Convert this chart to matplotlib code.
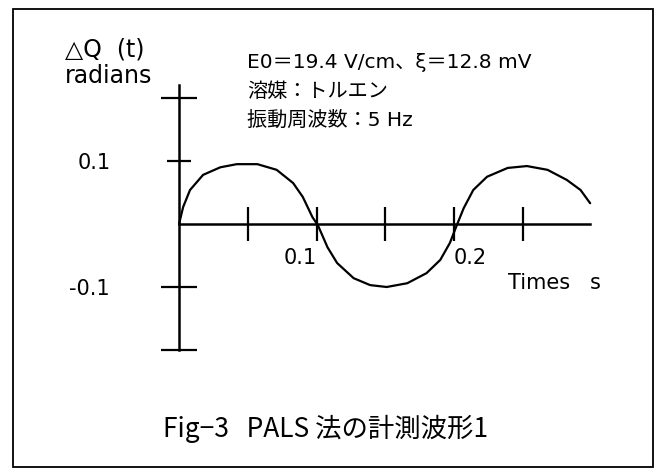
import matplotlib
matplotlib.use("Agg")
import matplotlib.pyplot as plt
from matplotlib.patches import Rectangle

plt.rcParams['font.family'] = ['DejaVu Sans', 'Noto Sans CJK JP']

# ---- data ----
time_s = [0.000, 0.003, 0.008, 0.0175, 0.030, 0.042, 0.057, 0.071, 0.083, 0.090,
          0.097, 0.101, 0.108, 0.115, 0.127, 0.139, 0.151, 0.166, 0.180, 0.190,
          0.197, 0.202, 0.207, 0.214, 0.224, 0.239, 0.253, 0.268, 0.282, 0.292, 0.299]
dq_rad = [0.000, 0.027, 0.054, 0.078, 0.090, 0.095, 0.095, 0.086, 0.065, 0.043,
          0.011, -0.002, -0.037, -0.062, -0.086, -0.097, -0.100, -0.094, -0.078, -0.057,
          -0.030, -0.002, 0.025, 0.054, 0.075, 0.089, 0.092, 0.086, 0.070, 0.054, 0.033]

x_ticks = [0.05, 0.10, 0.15, 0.20, 0.25]
x_tick_labels = ["", "0.1", "", "0.2", ""]
y_major = [0.1]
y_major_labels = ["0.1"]
y_minor = [-0.2, -0.1, 0.2]
y_minor_labels = ["", "-0.1", ""]

info_lines = ["E0＝19.4 V/cm、ξ＝12.8 mV", "溶媒：トルエン", "振動周波数：5 Hz"]
y_title_1 = "△Q  (t)"
y_title_2 = "radians"
x_title = "Times   s"
caption = "Fig−3   PALS 法の計測波形1"

# ---- figure ----
fig = plt.figure(figsize=(6.6, 4.7), dpi=100)
ax = fig.add_axes([0, 0, 1, 1])
ax.set_xlim(-0.1302, 0.3498)
ax.set_ylim(-0.3905, 0.3556)

ax.plot(time_s, dq_rad, color='black', lw=1.6, solid_capstyle='round')

for side in ('top', 'right'):
    ax.spines[side].set_visible(False)
ax.spines['left'].set_position(('data', 0))
ax.spines['bottom'].set_position(('data', 0))
ax.spines['left'].set_bounds(-0.2, 0.22)
ax.spines['bottom'].set_bounds(0, 0.299)
ax.spines['left'].set_linewidth(1.8)
ax.spines['bottom'].set_linewidth(1.8)

ax.set_xticks(x_ticks)
ax.set_xticklabels(x_tick_labels)
ax.tick_params(axis='x', direction='inout', length=24, width=1.6, pad=5,
               labelsize=15)
lbls = ax.get_xticklabels()
lbls[1].set_ha('right')
lbls[3].set_ha('left')

ax.set_yticks(y_major)
ax.set_yticklabels(y_major_labels)
ax.set_yticks(y_minor, minor=True)
ax.set_yticklabels(y_minor_labels, minor=True)
ax.tick_params(axis='y', which='major', direction='inout', length=17, width=1.6,
               pad=41, labelsize=15)
ax.tick_params(axis='y', which='minor', direction='inout', length=26, width=1.6,
               pad=37, labelsize=15)

# texts
ax.text(65 / 660, 1 - 49 / 470, y_title_1, transform=ax.transAxes, fontsize=17,
        va='center', ha='left')
ax.text(65 / 660, 1 - 76 / 470, y_title_2, transform=ax.transAxes, fontsize=17,
        va='center', ha='left')
for i, line in enumerate(info_lines):
    ax.text(247 / 660, 1 - (62 + 29 * i) / 470, line, transform=ax.transAxes,
            fontsize=14.5, va='center', ha='left')
ax.text(508 / 660, 1 - 283 / 470, x_title, transform=ax.transAxes, fontsize=15,
        va='center', ha='left')
ax.text(163 / 660, 1 - 429 / 470, caption, transform=ax.transAxes, fontsize=19,
        va='center', ha='left', family=['Noto Sans CJK JP', 'DejaVu Sans'])

# frame
fig.patches.append(Rectangle((13 / 660, 1 - 467 / 470), 640 / 660, 458 / 470,
                             transform=fig.transFigure, fill=False,
                             edgecolor='black', lw=1.3))

fig.savefig("out.png", dpi=100)
